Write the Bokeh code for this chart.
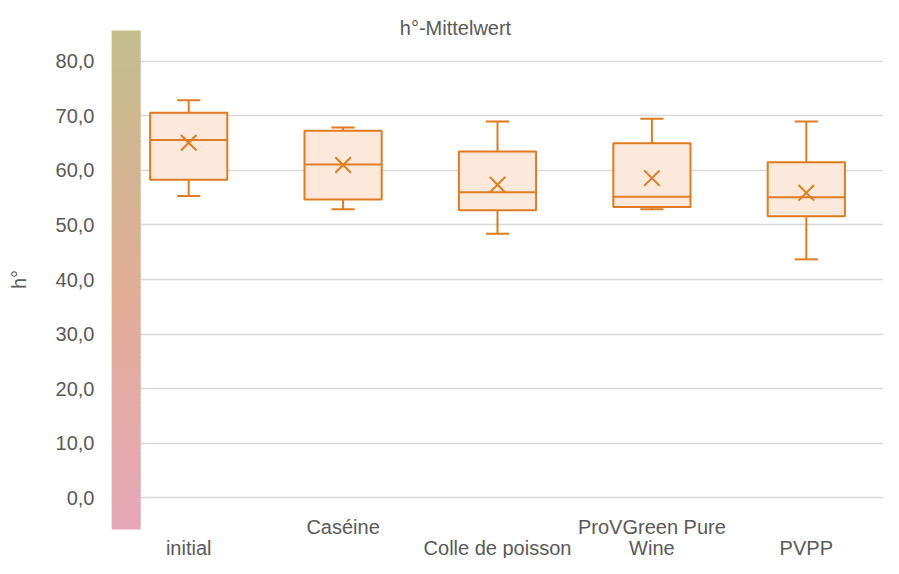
import numpy as np
from bokeh.plotting import figure
from bokeh.models import Range1d, FactorRange, FixedTicker, ColumnDataSource
from bokeh.core.properties import value
from bokeh.embed import file_html
from bokeh.resources import INLINE

# ---- data ----
categories = ["initial", "Caséine", "Colle de poisson", "ProVGreen Pure Wine", "PVPP"]
label_row1 = ["", "Caséine", "", "ProVGreen Pure", ""]
label_row2 = ["initial", "", "Colle de poisson", "Wine", "PVPP"]
whisker_low = [55.3, 52.9, 48.4, 52.9, 43.7]
q1 = [58.3, 54.7, 52.7, 53.3, 51.6]
median = [65.6, 61.1, 56.0, 55.2, 55.1]
q3 = [70.6, 67.3, 63.5, 65.0, 61.5]
whisker_high = [72.9, 67.9, 69.0, 69.5, 69.0]
mean = [65.1, 61.0, 57.4, 58.6, 55.9]
y_ticks = [0, 10, 20, 30, 40, 50, 60, 70, 80]
y_tick_labels = ["0,0", "10,0", "20,0", "30,0", "40,0", "50,0", "60,0", "70,0", "80,0"]
title_text = "h°-Mittelwert"
y_label = "h°"

FONT = "Liberation Sans"
TXT = "#595959"
ORANGE = "#E07B22"
FILL = "#FCE9DC"

p = figure(width=883, height=558, output_backend="svg", toolbar_location=None,
           x_range=FactorRange(*categories), y_range=Range1d(-11.19, 91.19),
           min_border_left=111, min_border_right=0, min_border_top=0, min_border_bottom=0,
           x_axis_location=None)
p.outline_line_color = None
p.background_fill_color = "white"
p.border_fill_color = "white"

# grid
p.ygrid.ticker = FixedTicker(ticks=y_ticks)
p.ygrid.grid_line_color = "#D9D9D9"
p.ygrid.grid_line_width = 1.5
p.xgrid.visible = False

# y axis
ax = p.yaxis[0]
ax.ticker = FixedTicker(ticks=y_ticks)
ax.major_label_overrides = {float(t): l for t, l in zip(y_ticks, y_tick_labels)}
ax.axis_line_color = None
ax.major_tick_line_color = None
ax.minor_tick_line_color = None
ax.major_tick_out = 0
ax.major_label_standoff = 17
ax.major_label_text_font = FONT
ax.major_label_text_font_size = "20px"
ax.major_label_text_color = TXT
ax.axis_label = y_label
ax.axis_label_text_font = FONT
ax.axis_label_text_font_size = "20px"
ax.axis_label_text_font_style = "normal"
ax.axis_label_text_color = TXT
ax.axis_label_standoff = 23

# gradient bar (left strip of the plot area)
def hex2rgb(h):
    return np.array([int(h[i:i + 2], 16) for i in (1, 3, 5)], dtype=float)

stops = [(0.0, "#E6A8B9"), (0.45, "#E2AC97"), (1.0, "#C3BE8D")]
g_bottom, g_top = -5.87, 85.69
n = 120
edges = np.linspace(g_bottom, g_top, n + 1)
cols = []
for i in range(n):
    t = (i + 0.5) / n
    for (t0, c0), (t1, c1) in zip(stops[:-1], stops[1:]):
        if t0 <= t <= t1:
            f = (t - t0) / (t1 - t0)
            c = hex2rgb(c0) * (1 - f) + hex2rgb(c1) * f
            cols.append("#%02x%02x%02x" % tuple(int(round(v)) for v in c))
            break
tops = edges[1:] + 0.6
tops[-1] = g_top
p.quad(left=0, right=0.188, bottom=edges[:-1], top=tops,
       fill_color=cols, line_color=None)

# boxes
centers = np.arange(len(categories)) + 0.5
src = ColumnDataSource(dict(cat=categories, c=centers, q1=q1, q3=q3, med=median,
                            lo=whisker_low, hi=whisker_high, mean=mean))
half_box = 0.25
half_cap = 0.075

p.segment(x0="c", x1="c", y0="q3", y1="hi", source=src, line_color=ORANGE, line_width=2)
p.segment(x0="c", x1="c", y0="lo", y1="q1", source=src, line_color=ORANGE, line_width=2)
p.segment(x0=centers - half_cap, x1=centers + half_cap, y0=whisker_high, y1=whisker_high,
          line_color=ORANGE, line_width=2)
p.segment(x0=centers - half_cap, x1=centers + half_cap, y0=whisker_low, y1=whisker_low,
          line_color=ORANGE, line_width=2)
p.vbar(x="cat", width=2 * half_box, bottom="q1", top="q3", source=src,
       fill_color=FILL, line_color=ORANGE, line_width=2)
p.segment(x0=centers - half_box, x1=centers + half_box, y0=median, y1=median,
          line_color=ORANGE, line_width=2)
p.scatter(x="cat", y="mean", source=src, marker="x", size=22,
          line_color=ORANGE, line_width=2)

# category labels (staggered, as in the original)
p.text(x=categories, y=[-5.5] * len(categories), text=label_row1,
       text_font=value(FONT), text_font_size="20px", text_color=TXT,
       text_align="center", text_baseline="middle")
p.text(x=categories, y=[-9.3] * len(categories), text=label_row2,
       text_font=value(FONT), text_font_size="20px", text_color=TXT,
       text_align="center", text_baseline="middle")

# title
p.text(x=[2.228], y=[86.06], text=[title_text],
       text_font=value(FONT), text_font_size="20px", text_color=TXT,
       text_align="center", text_baseline="middle")

open("out.html", "w").write(file_html(p, INLINE))
